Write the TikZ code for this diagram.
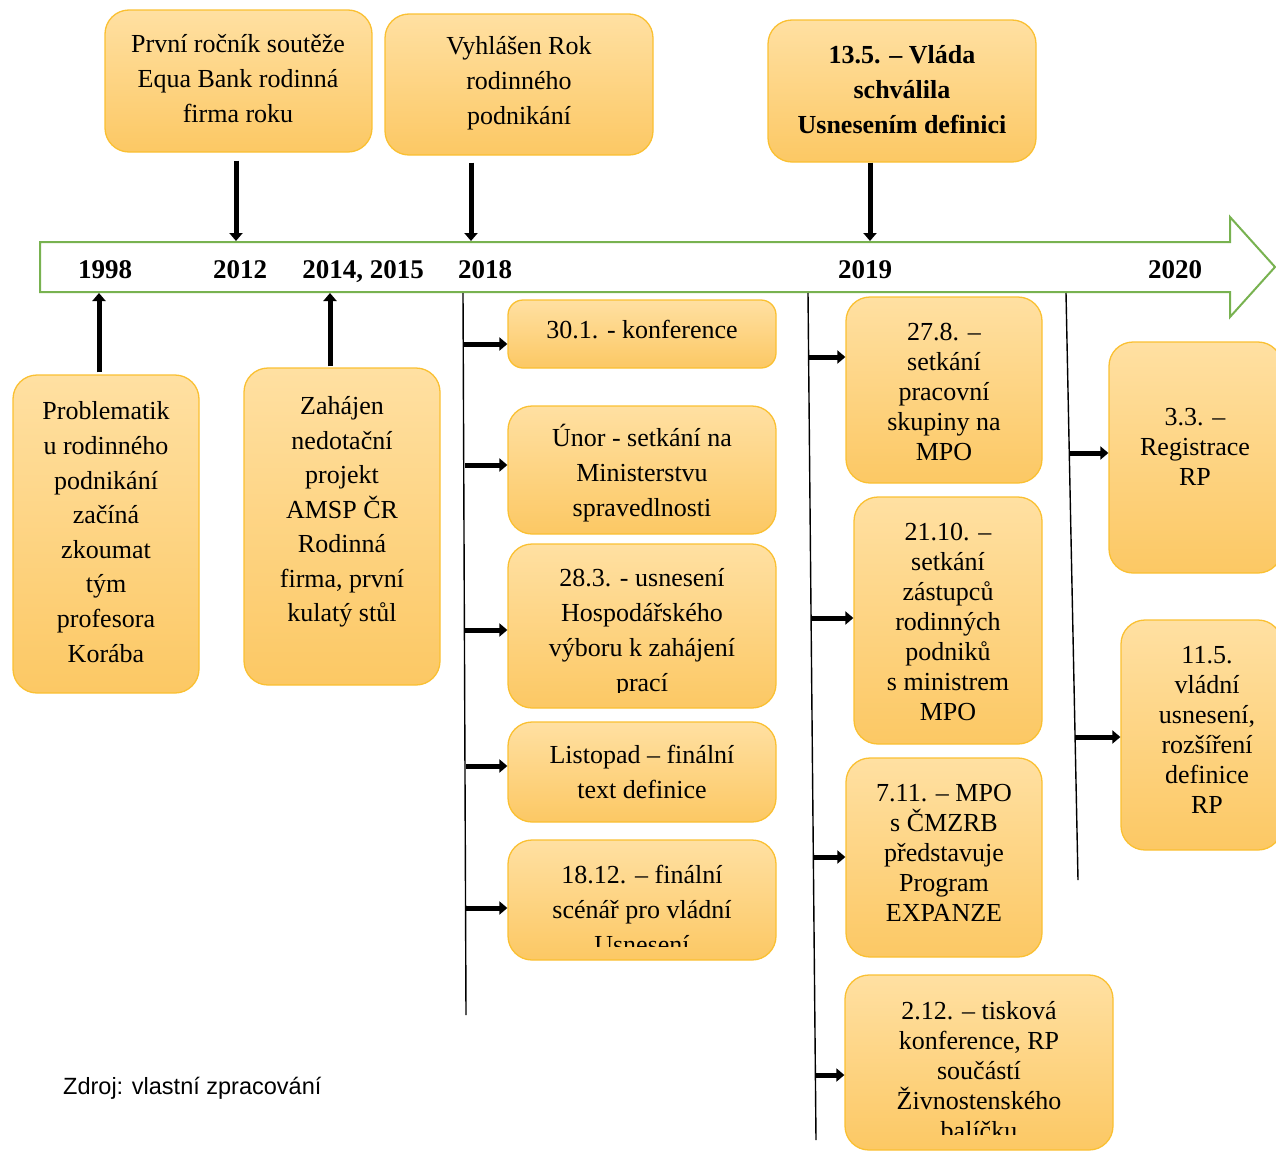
\documentclass[tikz,border=0pt]{standalone}
\usepackage{fontspec}
\setmainfont{Liberation Serif}
\setsansfont{Liberation Sans}
\usetikzlibrary{arrows.meta,calc}
\definecolor{boxtop}{RGB}{255,224,162}
\definecolor{boxbot}{RGB}{252,200,100}
\definecolor{boxline}{RGB}{250,192,50}
\definecolor{tlgreen}{RGB}{120,178,80}
\tikzset{
 box/.style={rectangle, rounded corners=24pt, draw=boxline, line width=1.3pt, top color=boxtop, bottom color=boxbot, inner sep=0pt},
 txt/.style={align=center, inner sep=0pt, font=\fontsize{26}{35}\selectfont},
 txtb/.style={align=center, inner sep=0pt, font=\fontsize{26}{30}\selectfont},
 yr/.style={font=\bfseries\fontsize{27}{30}\selectfont, inner sep=0pt, anchor=base},
 arr/.style={line width=5pt, -{Triangle[length=8pt,width=13pt]}},
 vline/.style={line width=1.4pt, black},
}
\newcommand\bx[6][]{\node[box,#1, minimum width={(#5-#3)*1pt}, minimum height={(#6-#4)*1pt}] (#2) at ({(#3+#5)/2},{(#4+#6)/2}) {};}
\begin{document}
\begin{tikzpicture}[x=1pt,y=-1pt]
\useasboundingbox (0,0) rectangle (1276,1151);
% timeline arrow
\draw[tlgreen, line width=2pt, fill=white, line join=miter] (40,242) -- (1230,242) -- (1230,217) -- (1275,267) -- (1230,317) -- (1230,292) -- (40,292) -- cycle;
\node[yr] (y1998) at (105,278) {1998};
\node[yr] (y2012) at (240,278) {2012};
\node[yr] (y2014) at (363,278) {2014, 2015};
\node[yr] (y2018) at (485,278) {2018};
\node[yr] (y2019) at (865,278) {2019};
\node[yr] (y2020) at (1175,278) {2020};

% top boxes
\bx{A}{105}{10}{372}{152}
\node[txt] (tA) at (238,79) {První ročník soutěže\\Equa Bank rodinná\\firma roku};
\bx{B}{385}{14}{653}{155}
\node[txt] (tB) at (519,83) {Vyhlášen Rok\\rodinného\\podnikání};
\bx{C}{768}{20}{1036}{162}
\node[txt, font=\bfseries\fontsize{26}{35}\selectfont] (tC) at (902,90) {13.5. – Vláda\\schválila\\Usnesením definici};

\coordinate (p2012) at (236,241);
\coordinate (p2018) at (471,241);
\coordinate (p2019) at (870,241);
\draw[arr] ($(A.south -| p2012)+(0,8)$) -- (p2012);
\draw[arr] ($(B.south -| p2018)+(0,7)$) -- (p2018);
\draw[arr] (C.south -| p2019) -- (p2019);

% bottom-left boxes
\bx{D}{13}{375}{199}{693}
\node[txt, font=\fontsize{26}{34.6}\selectfont] (tD) at (106,532) {Problematik\\u rodinného\\podnikání\\začíná\\zkoumat\\tým\\profesora\\Korába};
\bx{E}{244}{368}{440}{685}
\node[txt, font=\fontsize{26}{34.5}\selectfont] (tE) at (342,512) {Zahájen\\nedotační\\projekt\\AMSP ČR\\Rodinná\\firma, první\\kulatý stůl};
\coordinate (p1998) at (99,293);
\coordinate (p2014) at (330,293);
\draw[arr] ($(D.north -| p1998)+(0,-2)$) -- (p1998);
\draw[arr] ($(E.north -| p2014)+(0,-1)$) -- (p2014);

% 2018 column
\coordinate (L1a) at (463,293);
\coordinate (L1b) at (466,1015);
\draw[vline] (L1a) -- (L1b);
\bx[rounded corners=15pt]{F1}{508}{300}{776}{368}
\node[txt] (tF1) at (642,330) {30.1. - konference};
\bx{F2}{508}{406}{776}{534}
\node[txt] (tF2) at (642,473) {Únor - setkání na\\Ministerstvu\\spravedlnosti};
\bx{F3}{508}{544}{776}{708}
\begin{scope}
\clip (508,544) rectangle (776,692);
\node[txt] (tF3) at (642,633) {28.3. - usnesení\\Hospodářského\\výboru k zahájení\\prací};
\end{scope}
\bx{F4}{508}{722}{776}{822}
\node[txt] (tF4) at (642,772) {Listopad – finální\\text definice};
\bx{F5}{508}{840}{776}{960}
\begin{scope}
\clip (508,840) rectangle (776,946);
\node[txt] (tF5) at (642,909) {18.12. – finální\\scénář pro vládní\\Usnesení};
\end{scope}
\coordinate (s1) at (464,344);
\coordinate (s2) at (465,465);
\coordinate (s3) at (465,630);
\coordinate (s4) at (466,766);
\coordinate (s5) at (466,908);
\foreach \i in {1,...,5}{\draw[arr] (s\i) -- (s\i -| F\i.west);}

% 2019 column
\coordinate (L2a) at (808,293);
\coordinate (L2b) at (816,1140);
\draw[vline] (L2a) -- (L2b);
\bx{G1}{846}{297}{1042}{483}
\node[txtb] (tG1) at (944,392) {27.8. –\\setkání\\pracovní\\skupiny na\\MPO};
\bx{G2}{854}{497}{1042}{744}
\node[txtb] (tG2) at (948,622) {21.10. –\\setkání\\zástupců\\rodinných\\podniků\\s ministrem\\MPO};
\bx{G3}{846}{758}{1042}{957}
\node[txtb] (tG3) at (944,853) {7.11. – MPO\\s ČMZRB\\představuje\\Program\\EXPANZE};
\bx{G4}{845}{975}{1113}{1150}
\begin{scope}
\clip (845,975) rectangle (1113,1134);
\node[txtb] (tG4) at (979,1071) {2.12. – tisková\\konference, RP\\součástí\\Živnostenského\\balíčku};
\end{scope}
\coordinate (u1) at (809,357);
\coordinate (u2) at (811,618);
\coordinate (u3) at (813,857);
\coordinate (u4) at (815,1075);
\foreach \i in {1,...,4}{\draw[arr] (u\i) -- (u\i -| G\i.west);}

% 2020 column
\coordinate (L3a) at (1066,293);
\coordinate (L3b) at (1078,880);
\draw[vline] (L3a) -- (L3b);
\bx{H1}{1109}{342}{1282}{573}
\node[txtb] (tH1) at (1195,447) {3.3. –\\Registrace\\RP};
\bx{H2}{1121}{620}{1282}{850}
\node[txtb] (tH2) at (1207,730) {11.5.\\vládní\\usnesení,\\rozšíření\\definice\\RP};
\coordinate (v1) at (1069,453);
\coordinate (v2) at (1075,737);
\foreach \i in {1,2}{\draw[arr] (v\i) -- (v\i -| H\i.west);}

% source
\node[font=\sffamily\fontsize{23.5}{26}\selectfont, anchor=west, inner sep=0pt] (src) at (63,1088) {Zdroj: vlastní zpracování};
\end{tikzpicture}
\end{document}
